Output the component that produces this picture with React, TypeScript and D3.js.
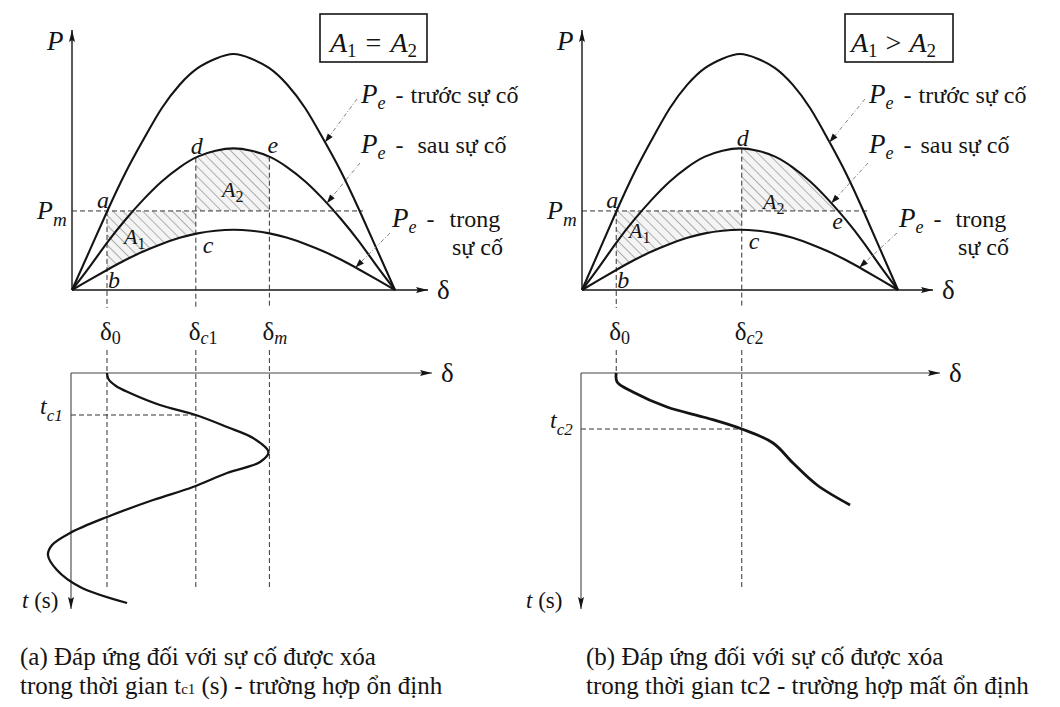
import React from "react";
import * as d3 from "d3";

// Power-angle readings, sampled every 10 degrees of rotor angle
const deltaGrid = [0, 10, 20, 30, 40, 50, 60, 70, 80, 90, 100, 110, 120, 130, 140, 150, 160, 170, 180];
const pBefore = [0, 0.17, 0.34, 0.5, 0.64, 0.77, 0.87, 0.94, 0.98, 1.0, 0.98, 0.94, 0.87, 0.77, 0.64, 0.5, 0.34, 0.17, 0];
const pAfter = [0, 0.1, 0.205, 0.3, 0.385, 0.46, 0.52, 0.565, 0.59, 0.6, 0.59, 0.565, 0.52, 0.46, 0.385, 0.3, 0.205, 0.1, 0];
const pDuring = [0, 0.044, 0.087, 0.128, 0.164, 0.195, 0.221, 0.24, 0.251, 0.255, 0.251, 0.24, 0.221, 0.195, 0.164, 0.128, 0.087, 0.044, 0];

// Mechanical input power and characteristic angles
const pMech = 0.335;
const delta0 = 19.5;
const deltaC1 = 69;
const deltaM = 110;
const deltaC2 = 91;
const deltaE2 = 146;
const tC1 = 0.42;
const tC2 = 0.56;

// Swing curves: [rotor angle (deg), time]
const swingStable: [number, number][] = [
  [19.5, 0], [20.3, 0.06], [24.5, 0.13], [32.3, 0.2], [49, 0.32], [69, 0.42], [86.4, 0.54],
  [100.9, 0.65], [109.5, 0.79], [104.8, 0.89], [86.4, 1.0], [67.4, 1.14], [45.2, 1.27],
  [19.5, 1.44], [-1.1, 1.6], [-11.1, 1.72], [-13.4, 1.82], [-8.4, 1.97], [4.5, 2.14], [30.7, 2.3],
];
const swingUnstable: [number, number][] = [
  [19.5, 0], [20, 0.09], [29, 0.19], [48.4, 0.34], [71.2, 0.45], [91, 0.56], [108.8, 0.7],
  [120.2, 0.9], [133.9, 1.12], [152.7, 1.32],
];

// Where the annotation arrows touch each curve (deg)
const leaderTips = [141, 142, 158];
const curveNames = ["trước sự cố", "sau sự cố", "trong", "sự cố"];
const captionA = ["(a) Đáp ứng đối với sự cố được xóa", "trong thời gian t", "c1", " (s) - trường hợp ổn định"];
const captionB = ["(b) Đáp ứng đối với sự cố được xóa", "trong thời gian tc2 - trường hợp mất ổn định"];

const SERIF = "Liberation Serif";
const INK = "#141414";

const valueAt = (series: number[], d: number) => d3.scaleLinear(deltaGrid, series)(d);

const yP = d3.scaleLinear().domain([0, 1]).range([290, 54]);
const yT = d3.scaleLinear().domain([0, 2.35]).range([373, 608]);

type PanelProps = {
  x0: number;
  x1: number;
  axisEnd: number;
  lowAxisEnd: number;
  stable: boolean;
  id: string;
};

// "Pₑ - name" annotation
function CurveLabel({ x, y, name, gap }: { x: number; y: number; name: string; gap: number }) {
  return (
    <text x={x} y={y} fontSize={24} fontFamily={SERIF} fill={INK}>
      <tspan fontStyle="italic" fontSize={27}>P</tspan>
      <tspan fontStyle="italic" fontSize={18} dy={6}>e</tspan>
      <tspan fontSize={24} dy={-6} dx={10}>-</tspan>
      <tspan fontSize={24} dx={gap}>{name}</tspan>
    </text>
  );
}

function Panel({ x0, x1, axisEnd, lowAxisEnd, stable, id }: PanelProps) {
  const x = d3.scaleLinear().domain([0, 180]).range([x0, x1]);
  const curveGen = (series: number[]) =>
    d3.line<number>().x((_, i) => x(deltaGrid[i])).y((v) => yP(v)).curve(d3.curveNatural)(series) as string;

  const series = [pBefore, pAfter, pDuring];
  const dc = stable ? deltaC1 : deltaC2;
  const tc = stable ? tC1 : tC2;
  const swing = stable ? swingStable : swingUnstable;
  const pdc = valueAt(pAfter, dc);
  // right end of A2: δm in the stable case, crossing of post-fault curve with Pm otherwise
  const a2End = stable ? deltaM : deltaE2;

  // area between Pm and the fault curve (A1), and area under post-fault curve (A2 source)
  const a1Area = d3
    .area<number>()
    .x((_, i) => x(deltaGrid[i]))
    .y0(() => yP(pMech))
    .y1((v) => yP(v))
    .curve(d3.curveNatural)(pDuring) as string;
  const underAfter = d3
    .area<number>()
    .x((_, i) => x(deltaGrid[i]))
    .y0(() => yP(0))
    .y1((v) => yP(v))
    .curve(d3.curveNatural)(pAfter) as string;

  const swingLine = d3
    .line<[number, number]>()
    .x((d) => x(d[0]))
    .y((d) => yT(d[1]))
    .curve(d3.curveCatmullRom.alpha(0.5))(swing) as string;

  const lx = x(0);
  const labelX = stable ? 361 : 869;
  const trongX = stable ? 392 : 899;
  const coX = stable ? 452 : 958;

  const dash = "5 3";
  const vx0 = x(delta0);
  const vxc = x(dc);
  const vxm = x(deltaM);

  const starts: [number, number][] = [
    [labelX - 4, 99],
    [labelX - 1, 163],
    [trongX - 2, 233],
  ];

  return (
    <g fill={INK}>
      <clipPath id={`a1clip-${id}`}>
        <rect x={vx0} y={0} width={vxc - vx0} height={400} />
      </clipPath>
      <clipPath id={`a2clip-${id}`}>
        <rect x={vxc} y={0} width={x(a2End) - vxc} height={yP(pMech)} />
      </clipPath>

      {/* hatched areas */}
      <path d={a1Area} fill="url(#hatch)" clipPath={`url(#a1clip-${id})`} stroke="none" />
      <path d={underAfter} fill="url(#hatch)" clipPath={`url(#a2clip-${id})`} stroke="none" />

      {/* axes */}
      <line x1={lx} y1={yP(0)} x2={lx} y2={30} stroke={INK} strokeWidth={1.4} markerEnd="url(#axArrow)" />
      <line x1={lx} y1={yP(0)} x2={axisEnd} y2={yP(0)} stroke={INK} strokeWidth={1.4} markerEnd="url(#axArrow)" />

      {/* Pm line */}
      <line x1={lx} y1={yP(pMech)} x2={stable ? 363 : 867} y2={yP(pMech)} stroke="#333" strokeWidth={1} strokeDasharray={dash} />

      {/* characteristic angle guides (upper chart) */}
      <line x1={vx0} y1={yP(pMech)} x2={vx0} y2={308} stroke="#333" strokeWidth={1} strokeDasharray={dash} />
      <line x1={vxc} y1={yP(pdc)} x2={vxc} y2={308} stroke="#333" strokeWidth={1} strokeDasharray={dash} />
      {stable && (
        <line x1={vxm} y1={yP(valueAt(pAfter, deltaM))} x2={vxm} y2={308} stroke="#333" strokeWidth={1} strokeDasharray={dash} />
      )}

      {/* power-angle curves */}
      {series.map((s, i) => (
        <path key={i} d={curveGen(s)} fill="none" stroke={INK} strokeWidth={2.1} />
      ))}

      {/* annotation leaders */}
      {leaderTips.map((tip, i) => (
        <line
          key={i}
          x1={starts[i][0]}
          y1={starts[i][1]}
          x2={x(tip)}
          y2={yP(valueAt(series[i], tip))}
          stroke="#777"
          strokeWidth={0.9}
          strokeDasharray="4 2 1 2"
          markerEnd="url(#tipArrow)"
        />
      ))}

      {/* annotation text */}
      <CurveLabel x={labelX} y={103} name={curveNames[0]} gap={7} />
      <CurveLabel x={labelX} y={153} name={curveNames[1]} gap={stable ? 14 : 9} />
      <CurveLabel x={trongX} y={227} name={curveNames[2]} gap={stable ? 15 : 14} />
      <text x={coX} y={255} fontSize={24} fontFamily={SERIF}>{curveNames[3]}</text>

      {/* axis labels */}
      <text x={lx - 25} y={50} fontSize={27} fontStyle="italic" fontFamily={SERIF}>P</text>
      <text x={lx - 35} y={219} fontSize={26} fontFamily={SERIF}>
        <tspan fontStyle="italic" fontSize={26}>P</tspan>
        <tspan fontStyle="italic" fontSize={19} dy={7}>m</tspan>
      </text>
      <text x={axisEnd + 9} y={299} fontSize={27} fontFamily={SERIF}>δ</text>

      {/* point letters */}
      <g fontStyle="italic">
        <text x={vx0 - 10} y={yP(pMech) - 3} fontSize={24} fontFamily={SERIF}>a</text>
        <text x={vx0 + 1} y={288} fontSize={24} fontFamily={SERIF}>b</text>
        <text x={vxc + 7} y={yP(valueAt(pDuring, dc)) + 19} fontSize={24} fontFamily={SERIF}>c</text>
        <text x={vxc - 5} y={yP(pdc) - (stable ? 4 : 3)} fontSize={24} fontFamily={SERIF}>d</text>
        {stable ? (
          <text x={vxm - 2} y={yP(valueAt(pAfter, deltaM)) - 4} fontSize={24} fontFamily={SERIF}>e</text>
        ) : (
          <text x={x(a2End) - 6} y={yP(pMech) + 18} fontSize={24} fontFamily={SERIF}>e</text>
        )}
      </g>
      <text x={stable ? 124 : 629} y={stable ? 244 : 238} fontSize={22} fontFamily={SERIF}>
        <tspan fontStyle="italic" fontSize={22}>A</tspan>
        <tspan fontSize={16} dy={5}>1</tspan>
      </text>
      <text x={stable ? 222 : 763} y={stable ? 197 : 209} fontSize={22} fontFamily={SERIF}>
        <tspan fontStyle="italic" fontSize={22}>A</tspan>
        <tspan fontSize={16} dy={5}>2</tspan>
      </text>

      {/* equal-area box */}
      <rect x={stable ? 320 : 845} y={14} width={stable ? 107 : 108} height={48} fill="none" stroke={INK} strokeWidth={1.6} />
      <text x={stable ? 330 : 851} y={52} fontSize={28} fontFamily={SERIF}>
        <tspan fontStyle="italic" fontSize={28}>A</tspan>
        <tspan fontSize={19} dy={5}>1</tspan>
        <tspan fontSize={28} dy={-5} dx={stable ? 9 : 8}>{stable ? "=" : ">"}</tspan>
        <tspan fontSize={28} dx={stable ? 9 : 8} fontStyle="italic">A</tspan>
        <tspan fontSize={19} dy={5}>2</tspan>
      </text>

      {/* angle labels */}
      <text x={vx0 - 7} y={340} fontSize={25} fontFamily={SERIF}>
        δ<tspan fontSize={18} dy={4}>0</tspan>
      </text>
      <text x={vxc - 7} y={340} fontSize={25} fontFamily={SERIF}>
        δ<tspan fontSize={18} dy={4} fontStyle="italic">c</tspan>
        <tspan fontSize={18}>{stable ? "1" : "2"}</tspan>
      </text>
      {stable && (
        <text x={vxm - 7} y={340} fontSize={25} fontFamily={SERIF}>
          δ<tspan fontSize={18} dy={4} fontStyle="italic">m</tspan>
        </text>
      )}

      {/* lower chart: swing curve */}
      <line x1={vx0} y1={350} x2={vx0} y2={stable ? 588 : yT(0)} stroke="#333" strokeWidth={1} strokeDasharray={dash} />
      <line x1={vxc} y1={350} x2={vxc} y2={588} stroke="#333" strokeWidth={1} strokeDasharray={dash} />
      {stable && <line x1={vxm} y1={350} x2={vxm} y2={588} stroke="#333" strokeWidth={1} strokeDasharray={dash} />}
      <line x1={lx - 1} y1={yT(tc)} x2={vxc} y2={yT(tc)} stroke="#333" strokeWidth={1} strokeDasharray={dash} />

      <line x1={lx - 1} y1={yT(0)} x2={lowAxisEnd} y2={yT(0)} stroke="#444" strokeWidth={1.1} markerEnd="url(#axArrow)" />
      <line x1={lx - 1} y1={yT(0)} x2={lx - 1} y2={609} stroke="#444" strokeWidth={1.1} markerEnd="url(#axArrow)" />

      <path d={swingLine} fill="none" stroke={INK} strokeWidth={stable ? 2.3 : 2.8} />

      <text x={lowAxisEnd + 9} y={382} fontSize={27} fontFamily={SERIF}>δ</text>
      <text x={lx - 32} y={yT(tc) - 1} fontSize={24} fontFamily={SERIF}>
        <tspan fontStyle="italic" fontSize={24}>t</tspan>
        <tspan fontStyle="italic" fontSize={17} dy={7}>{stable ? "c1" : "c2"}</tspan>
      </text>
      <text x={lx - (stable ? 50 : 56)} y={608} fontSize={23} fontFamily={SERIF}>
        <tspan fontStyle="italic" fontSize={23}>t</tspan>
        <tspan fontSize={23}> (s)</tspan>
      </text>
    </g>
  );
}

export default function App() {
  return (
    <svg width={1060} height={707} viewBox="0 0 1060 707" style={{ display: "block", marginTop: -8, marginLeft: -8, background: "#fff" }}>
      <defs>
        <pattern id="hatch" width={7} height={7} patternUnits="userSpaceOnUse" patternTransform="rotate(-45)">
          <rect width={7} height={7} fill="#f4f4f4" />
          <line x1={0} y1={0} x2={0} y2={7} stroke="#666" strokeWidth={1} />
        </pattern>
        <marker id="axArrow" viewBox="0 0 12 8" refX={12} refY={4} markerWidth={12} markerHeight={8} markerUnits="userSpaceOnUse" orient="auto">
          <path d="M0,1 L12,4 L0,7 L2,4 z" fill={INK} />
        </marker>
        <marker id="tipArrow" viewBox="0 0 10 8" refX={10} refY={4} markerWidth={10} markerHeight={7} markerUnits="userSpaceOnUse" orient="auto">
          <path d="M0,0.5 L10,4 L0,7.5 z" fill={INK} />
        </marker>
      </defs>
      <rect width={1060} height={707} fill="#fff" />
      <Panel x0={72} x1={395} axisEnd={428} lowAxisEnd={432} stable={true} id="a" />
      <Panel x0={582} x1={898} axisEnd={933} lowAxisEnd={940} stable={false} id="b" />

      <g fill={INK}>
        <text x={20} y={665} fontSize={25} fontFamily={SERIF}>{captionA[0]}</text>
        <text x={20} y={694} fontSize={25} fontFamily={SERIF}>
          <tspan fontSize={25}>{captionA[1]}</tspan>
          <tspan fontSize={15}>{captionA[2]}</tspan>
          <tspan fontSize={25}>{captionA[3]}</tspan>
        </text>
        <text x={586} y={665} fontSize={25} fontFamily={SERIF}>{captionB[0]}</text>
        <text x={586} y={694} fontSize={25} fontFamily={SERIF}>{captionB[1]}</text>
      </g>
    </svg>
  );
}
